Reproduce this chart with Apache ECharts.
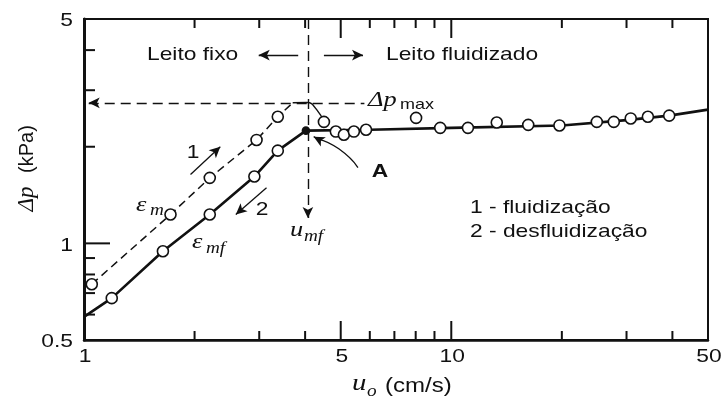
<!DOCTYPE html>
<html>
<head>
<meta charset="utf-8">
<script src="https://cdn.jsdelivr.net/npm/echarts@6/dist/echarts.min.js"></script>
<style>
  html, body { margin: 0; padding: 0; background: #fff; }
  #chart { width: 722px; height: 403px; }
</style>
</head>
<body>
<div id="chart"></div>
<script>
// Pressure drop across a bed vs. superficial gas velocity (log–log)

// 1 - fluidização: increasing velocity through the fixed bed (dashed)
const fluidizacao = [[1.05, 0.746], [1.72, 1.23], [2.20, 1.60], [2.95, 2.10], [3.37, 2.48], [3.70, 2.74]];
// overshoot of the pressure drop just before the bed fluidizes
const picoFluidizacao = [[3.70, 2.74], [4.05, 2.745], [4.30, 2.61], [4.50, 2.39]];
// 2 - desfluidização: decreasing velocity back through the fixed bed
const desfluidizacao = [[1.19, 0.675], [1.64, 0.945], [2.20, 1.23], [2.91, 1.615], [3.37, 1.945]];
const inicioDesfluidizacao = [1.0, 0.59];
// point A: minimum fluidization
const pontoA = [4.02, 2.245];
// fluidized-bed plateau (solid line)
const patamar = [[6, 2.26], [10, 2.29], [20, 2.33], [30, 2.42], [39.2, 2.50], [50, 2.61]];
// measured points in the fluidized bed
const leitoFluidizado = [
  [4.50, 2.39], [4.85, 2.23], [5.10, 2.18], [5.43, 2.23], [5.86, 2.26],
  [8.02, 2.46], [9.33, 2.29], [11.1, 2.29], [13.3, 2.38], [16.2, 2.34],
  [19.7, 2.33], [24.9, 2.39], [27.7, 2.39], [30.8, 2.45], [34.3, 2.48], [39.2, 2.50]
];
const dpMax = 2.74;
const umf = 4.07;
// curved pointer from the label A to the point A
const ponteiroA = [[5.57, 1.723], [4.94, 1.97], [4.35, 2.11]];

// axes
const X_MIN = 1, X_MAX = 50, Y_MIN = 0.5, Y_MAX = 5;
const xTicksShort = [2, 3, 4, 6, 7, 8, 9, 20, 30, 40];
const xTicksLong = [5, 10];
const yTicksShort = [0.6, 0.7, 0.8, 0.9, 2, 3, 4];
const yTicksLong = [1];
const xTickLabels = [1, 5, 10, 50];
const yTickLabels = [0.5, 1, 5];

const INK = '#111';
const SX = 1.2; // horizontal text stretch

const chart = echarts.init(document.getElementById('chart'), null, { renderer: 'canvas' });

const dashed = { color: INK, width: 1.4, type: [10, 6] };
const thin = { color: INK, width: 1.3, type: 'solid' };

const option = {
  animation: false,
  grid: { left: 84, right: 14, top: 19, bottom: 63, show: true, borderColor: INK, borderWidth: 2 },
  xAxis: {
    type: 'log', min: X_MIN, max: X_MAX,
    axisLine: { show: true, lineStyle: { color: INK, width: 2.5 } },
    axisTick: { show: false }, axisLabel: { show: false }, splitLine: { show: false }
  },
  yAxis: {
    type: 'log', min: Y_MIN, max: Y_MAX,
    axisLine: { show: true, lineStyle: { color: INK, width: 3 } },
    axisTick: { show: false }, axisLabel: { show: false }, splitLine: { show: false }
  },
  series: [
    {
      id: 'fluidizacao',
      type: 'line',
      z: 3,
      data: fluidizacao.map((p, i) => i === fluidizacao.length - 1 ? { value: p, symbol: 'none' } : p),
      symbol: 'circle', symbolSize: 11,
      itemStyle: { color: '#fff', borderColor: INK, borderWidth: 1.6 },
      lineStyle: { color: INK, width: 1.5, type: [8, 5] }
    },
    {
      id: 'pico',
      type: 'line',
      z: 2,
      smooth: 0.5,
      data: picoFluidizacao,
      symbol: 'none',
      lineStyle: { color: INK, width: 1.5 }
    },
    {
      id: 'ponteiro',
      type: 'line',
      z: 2,
      smooth: 0.6,
      data: ponteiroA,
      symbol: 'none',
      lineStyle: { color: INK, width: 1.3 },
      markLine: {
        silent: true,
        animation: false,
        symbol: ['none', 'arrow'],
        symbolSize: [8, 11],
        label: { show: false },
        lineStyle: thin,
        data: [[{ coord: ponteiroA[ponteiroA.length - 1] }, { coord: [4.22, 2.15] }]]
      }
    },
    {
      id: 'desfluidizacao',
      type: 'line',
      z: 3,
      data: [
        { value: inicioDesfluidizacao, symbol: 'none' },
        ...desfluidizacao,
        { value: pontoA, symbol: 'circle', symbolSize: 7, itemStyle: { color: INK, borderColor: INK } },
        ...patamar.map(p => ({ value: p, symbol: 'none' }))
      ],
      symbol: 'circle', symbolSize: 11,
      itemStyle: { color: '#fff', borderColor: INK, borderWidth: 1.6 },
      lineStyle: { color: INK, width: 2.6 }
    },
    {
      id: 'leito',
      type: 'scatter',
      z: 4,
      data: leitoFluidizado,
      symbol: 'circle', symbolSize: 11,
      itemStyle: { color: '#fff', borderColor: INK, borderWidth: 1.6, opacity: 1 },
      markLine: {
        silent: true,
        animation: false,
        symbolSize: [8, 11],
        label: { show: false },
        lineStyle: thin,
        data: [
          // Δp max
          [{ coord: [1.03, dpMax], symbol: 'arrow', lineStyle: dashed }, { coord: [5.8, dpMax], symbol: 'none' }],
          // u_mf
          [{ coord: [umf, Y_MAX], symbol: 'none', lineStyle: dashed }, { coord: [umf, 1.2], symbol: 'arrow' }],
          // Leito fixo / Leito fluidizado
          [{ coord: [3.83, 3.86], symbol: 'none' }, { coord: [2.99, 3.86], symbol: 'arrow' }],
          [{ coord: [4.50, 3.86], symbol: 'none' }, { coord: [5.75, 3.86], symbol: 'arrow' }],
          // direction arrows 1 and 2
          [{ coord: [1.95, 1.64], symbol: 'none' }, { coord: [2.35, 2.00], symbol: 'arrow' }],
          [{ coord: [3.14, 1.49], symbol: 'none' }, { coord: [2.59, 1.23], symbol: 'arrow' }]
        ]
      }
    },
    // inward axis ticks, drawn as rectangles on the grid's scales
    {
      id: 'ticks',
      type: 'custom',
      coordinateSystem: 'cartesian2d',
      clip: false,
      z: 5,
      data: [
        ...xTicksShort.map(v => [v, Y_MIN, 9, 0]),
        ...xTicksLong.map(v => [v, Y_MIN, 19, 0]),
        ...yTicksShort.map(v => [X_MIN, v, 11, 1]),
        ...yTicksLong.map(v => [X_MIN, v, 26, 1])
      ],
      renderItem(params, api) {
        const len = api.value(2);
        if (api.value(3) === 0) {
          const v = api.value(0);
          const b = api.coord([v, Y_MIN]);
          const t = api.coord([v, Y_MAX]);
          return { type: 'group', children: [
            { type: 'rect', shape: { x: b[0] - 1, y: b[1] - len, width: 2, height: len }, style: { fill: INK } },
            { type: 'rect', shape: { x: t[0] - 1, y: t[1], width: 2, height: len }, style: { fill: INK } }
          ] };
        }
        const p = api.coord([X_MIN, api.value(1)]);
        return { type: 'rect', shape: { x: p[0], y: p[1] - 1, width: len, height: 2 }, style: { fill: INK } };
      }
    }
  ]
};

chart.setOption(option);

// Tick labels and annotations
const toPx = (v) => chart.convertToPixel({ gridIndex: 0 }, v);
const sans = (s) => s + 'px "Liberation Sans", Arial, sans-serif';
const ital = (s) => 'italic ' + s + 'px "Liberation Serif", "DejaVu Serif", serif';
const txt = (x, y, text, font, align) => ({
  type: 'text', x, y, scaleX: SX, z: 20,
  style: { text, font, fill: INK, textAlign: align || 'left', textVerticalAlign: 'middle' }
});

const els = [];
xTickLabels.forEach(v => {
  const p = toPx([v, Y_MIN]);
  els.push(txt(p[0] + 1, p[1] + 17, String(v), sans(19), 'center'));
});
yTickLabels.forEach(v => {
  const p = toPx([X_MIN, v]);
  els.push(txt(p[0] - 11, p[1] + 2, String(v), sans(19), 'right'));
});

els.push(
  txt(147, 55, 'Leito fixo', sans(19)),
  txt(386, 55, 'Leito fluidizado', sans(19)),
  txt(368, 100, 'Δp', ital(22)),
  txt(400, 105, 'max', sans(15)),
  txt(193, 153, '1', sans(19), 'center'),
  txt(136, 205, 'ε', ital(22)),
  txt(150, 211, 'm', ital(16)),
  txt(262, 210, '2', sans(19), 'center'),
  txt(192, 242, 'ε', ital(22)),
  txt(206, 249, 'mf', ital(16)),
  txt(290, 230, 'u', ital(22)),
  txt(304, 237, 'mf', ital(16)),
  txt(380, 172, 'A', 'bold ' + sans(19), 'center'),
  txt(470, 208, '1 - fluidização', sans(19)),
  txt(470, 232, '2 - desfluidização', sans(19)),
  // x axis title
  txt(352, 384, 'u', ital(24)),
  txt(367, 392, 'o', ital(16)),
  txt(385, 386, '(cm/s)', sans(20)),
  // y axis title
  { type: 'text', x: 27, y: 149, rotation: Math.PI / 2, z: 20,
    style: { text: '(kPa)', font: sans(20), fill: INK, textAlign: 'center', textVerticalAlign: 'middle' } },
  { type: 'text', x: 27, y: 199, rotation: Math.PI / 2, z: 20,
    style: { text: 'Δp', font: ital(23), fill: INK, textAlign: 'center', textVerticalAlign: 'middle' } }
);

chart.setOption({ graphic: { elements: els } });
</script>
</body>
</html>
